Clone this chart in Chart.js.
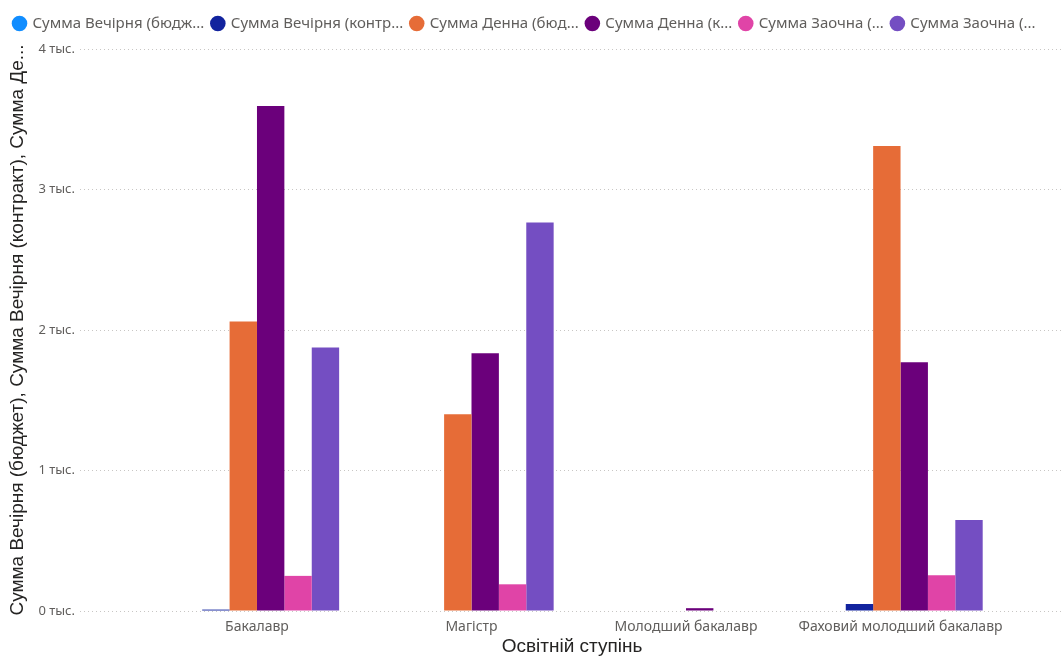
<!DOCTYPE html>
<html>
<head>
<meta charset="utf-8">
<script src="https://cdn.jsdelivr.net/npm/chart.js@4.4.1/dist/chart.umd.min.js"></script>
<style>
  html, body { margin: 0; padding: 0; background: #fff; }
  #wrap { width: 1064px; height: 656px; }
</style>
</head>
<body>
<div id="wrap"><canvas id="grafica" width="1064" height="656"></canvas></div>
<script>
const categorias = ["Бакалавр", "Магістр", "Молодший бакалавр", "Фаховий молодший бакалавр"];

const series = [
  "Сумма Вечірня (бюдж...",
  "Сумма Вечірня (контр...",
  "Сумма Денна (бюд...",
  "Сумма Денна (к...",
  "Сумма Заочна (...",
  "Сумма Заочна (..."
];

const vechirnyaBudget = [0, 0, 0, 0];
const vechirnyaKontrakt = [10, 0, 0, 50];
const dennaBudget = [2060, 1400, 0, 3310];
const dennaKontrakt = [3595, 1835, 20, 1770];
const zaochnaBudget = [250, 190, 0, 255];
const zaochnaKontrakt = [1875, 2765, 0, 647];

const colores = ["#118DFF", "#12239E", "#E66C37", "#6B007B", "#E044A7", "#744EC2"];

const tituloY = "Сумма Вечірня (бюджет), Сумма Вечірня (контракт), Сумма Де...";
const tituloX = "Освітній ступінь";

const valores = [vechirnyaBudget, vechirnyaKontrakt, dennaBudget, dennaKontrakt, zaochnaBudget, zaochnaKontrakt];

const datasets = valores.map((vals, i) => ({
  label: series[i],
  data: vals.map((v, j) => ({ x: j, y: v })),
  backgroundColor: colores[i],
  borderWidth: 0,
  barPercentage: 1,
  categoryPercentage: 0.766
}));

// un poco de aire debajo de la leyenda
const espacioLeyenda = {
  id: "espacioLeyenda",
  beforeInit(chart) {
    const fitOriginal = chart.legend.fit;
    chart.legend.fit = function () {
      fitOriginal.call(this);
      this.height += 8;
    };
  }
};

const ctx = document.getElementById("grafica").getContext("2d");

const chart = new Chart(ctx, {
  type: "bar",
  data: { datasets: datasets },
  plugins: [espacioLeyenda],
  options: {
    responsive: false,
    animation: false,
    layout: { padding: { top: 8, left: 6, right: 0, bottom: 0 } },
    plugins: {
      tooltip: { enabled: false },
      legend: {
        position: "top",
        align: "start",
        labels: {
          usePointStyle: true,
          pointStyle: "circle",
          boxWidth: 11,
          boxHeight: 11,
          padding: 8,
          color: "#605E5C",
          font: { family: "'Noto Sans', sans-serif", size: 15 }
        }
      }
    },
    scales: {
      x: {
        type: "linear",
        offset: false,
        min: -0.825,
        max: 3.762,
        grid: { display: false, offset: false, drawTicks: false, tickLength: 0 },
        border: { display: false },
        ticks: {
          stepSize: 1,
          includeBounds: false,
          autoSkip: false,
          maxRotation: 0,
          color: "#605E5C",
          padding: 8,
          font: { family: "'Noto Sans', sans-serif", size: 14 },
          callback: (v) => Number.isInteger(v) ? categorias[v] : ""
        },
        title: {
          display: true,
          text: tituloX,
          color: "#252423",
          padding: { top: 0, bottom: 0 },
          font: { family: "'Liberation Sans', Arial, sans-serif", size: 19, lineHeight: 1 }
        },
        afterFit: (scale) => { scale.height = 45; }
      },
      y: {
        min: 0,
        max: 4000,
        grid: {
          color: "#C8C6C4",
          drawTicks: false,
          lineWidth: 1
        },
        border: { display: false, dash: [1, 3] },
        ticks: {
          stepSize: 1000,
          padding: 5,
          color: "#605E5C",
          font: { family: "'Noto Sans', sans-serif", size: 13 },
          callback: (v) => (v / 1000) + " тыс."
        },
        title: {
          display: true,
          text: tituloY,
          color: "#252423",
          padding: { top: 0, bottom: 2 },
          font: { family: "'Liberation Sans', Arial, sans-serif", size: 19 }
        },
        afterFit: (scale) => { scale.width = 74; }
      }
    }
  }
});
</script>
</body>
</html>
